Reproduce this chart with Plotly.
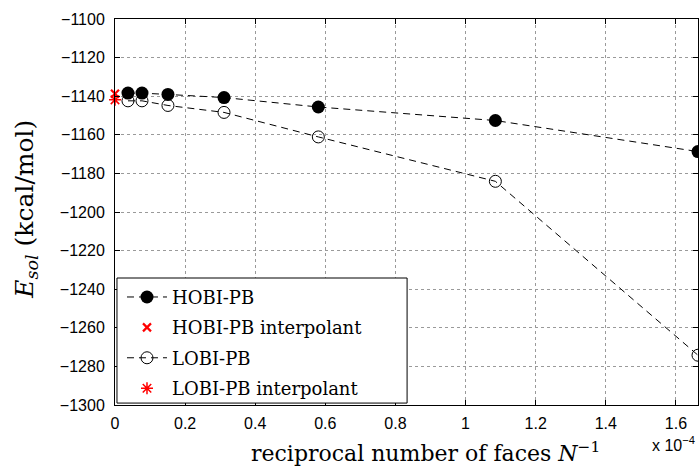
import plotly.graph_objects as go

# x values in units of 1e-4 (reciprocal number of faces)
x_vals = [0.037, 0.077, 0.151, 0.311, 0.580, 1.085, 1.663]
hobi = [-1138.4, -1138.4, -1139.1, -1140.7, -1145.6, -1152.6, -1168.7]
lobi = [-1142.4, -1142.4, -1144.8, -1148.4, -1161.1, -1184.1, -1274.2]
x_interp = [0.0]
hobi_interp = [-1138.7]
lobi_interp = [-1141.9]

x_ticks = [0, 0.2, 0.4, 0.6, 0.8, 1, 1.2, 1.4, 1.6]
x_tick_text = ["0", "0.2", "0.4", "0.6", "0.8", "1", "1.2", "1.4", "1.6"]
y_ticks = list(range(-1300, -1099, 20))

serif = "DejaVu Serif, Liberation Serif, serif"
sans = "Liberation Sans, Arial, sans-serif"

fig = go.Figure()
fig.add_trace(go.Scatter(x=x_vals, y=hobi, mode="lines+markers", name="HOBI-PB", legendgroup="g1",
                         line=dict(color="black", width=1, dash="7px,5px"),
                         marker=dict(symbol="circle", size=13, color="black")))
fig.add_trace(go.Scatter(x=x_interp, y=hobi_interp, mode="markers", name="HOBI-PB interpolant",
                         legendgroup="g2", cliponaxis=False,
                         marker=dict(symbol="x-thin", size=8, color="red",
                                     line=dict(color="red", width=2.2))))
fig.add_trace(go.Scatter(x=x_vals, y=lobi, mode="lines+markers", name="LOBI-PB", legendgroup="g3",
                         line=dict(color="black", width=1, dash="7px,5px"),
                         marker=dict(symbol="circle-open", size=12, color="black",
                                     line=dict(color="black", width=1))))
fig.add_trace(go.Scatter(x=x_interp, y=lobi_interp, mode="markers", name="LOBI-PB interpolant",
                         legendgroup="g4", cliponaxis=False,
                         marker=dict(symbol="asterisk-open", size=10, color="red",
                                     line=dict(color="red", width=1.5))))

axis_common = dict(showline=True, linecolor="black", linewidth=1, mirror="allticks",
                   ticks="inside", ticklen=5, tickcolor="black",
                   showgrid=True, gridcolor="#9a9a9a", griddash="dot", gridwidth=1,
                   zeroline=False, tickfont=dict(family=sans, size=16, color="black"))

fig.update_xaxes(range=[0, 1.663], tickvals=x_ticks, ticktext=x_tick_text,
                 ticklabelstandoff=4, **axis_common)
fig.update_yaxes(range=[-1300, -1100], tickvals=y_ticks, ticklabelstandoff=6, **axis_common)

# legend frame
fig.add_shape(type="rect", xref="paper", yref="paper", x0=0.0034, x1=0.501, y0=0.005, y1=0.329,
              fillcolor="white", line=dict(color="black", width=1), layer="above")

fig.add_annotation(xref="paper", yref="paper", x=0.532, y=-0.122, xanchor="center", yanchor="middle",
                   text="reciprocal number of faces <i>N</i><sup>−1</sup>",
                   showarrow=False, font=dict(family=serif, size=22, color="black"))
fig.add_annotation(xref="paper", yref="paper", x=-0.153, y=0.508, xanchor="center", yanchor="middle",
                   textangle=-90,
                   text="<i>E</i><sub><i>sol</i></sub> (kcal/mol)",
                   showarrow=False, font=dict(family=serif, size=25, color="black"))
fig.add_annotation(xref="paper", yref="paper", x=0.998, y=-0.07, xanchor="right", yanchor="top",
                   text="x 10<sup>−4</sup>", showarrow=False,
                   font=dict(family=sans, size=16, color="black"))

fig.update_layout(width=699, height=466, margin=dict(l=115, r=1, t=19, b=61),
                  plot_bgcolor="white", paper_bgcolor="white",
                  legend=dict(x=0.012, y=0.327, xanchor="left", yanchor="top",
                              bgcolor="rgba(0,0,0,0)", borderwidth=0,
                              font=dict(family=serif, size=18, color="black"),
                              itemwidth=40, tracegroupgap=4),
                  showlegend=True)

fig.write_html("out.html", config={"displayModeBar": False},
               post_script="document.body.style.margin='0px';document.body.style.overflow='hidden';")
